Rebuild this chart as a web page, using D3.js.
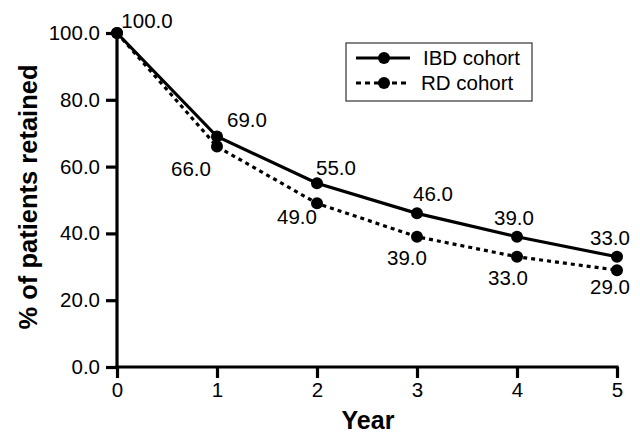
<!DOCTYPE html>
<html><head><meta charset="utf-8">
<script src="https://cdn.jsdelivr.net/npm/d3@7"></script>
<style>body{margin:0;background:#fff}svg{display:block}text{font-family:Arial,"Liberation Sans",Helvetica,sans-serif}</style>
</head><body>
<svg id="c" width="640" height="434"></svg>
<script>
const years = [0, 1, 2, 3, 4, 5];
const ibd = [100, 69, 55, 46, 39, 33];
const rd = [100, 66, 49, 39, 33, 29];
const yTicks = [0, 20, 40, 60, 80, 100];
const seriesNames = ["IBD cohort", "RD cohort"];
// label nudges (pixels), layout only
const ibdNudge = [[30, -5], [30, -10], [19, -8], [16, -12], [-3, -12], [-7, -12]];
const rdNudge = [[0, 0], [-26, 29], [-20, 21], [-10, 28], [-9, 28], [-7, 24]];

const svg = d3.select("#c");
const x = d3.scaleLinear().domain([0, 5]).range([117, 617]);
const y = d3.scaleLinear().domain([0, 100]).range([367, 33]);

const g = svg.append("g");
const xAxis = g.append("g").attr("transform", `translate(0,${y(0)})`)
  .call(d3.axisBottom(x).tickValues(years).tickFormat(d3.format("d")).tickSize(11).tickPadding(4));
const yAxis = g.append("g").attr("transform", `translate(${x(0)},0)`)
  .call(d3.axisLeft(y).tickValues(yTicks).tickFormat(d3.format(".1f")).tickSize(11).tickPadding(6));
[xAxis, yAxis].forEach(a => {
  a.select(".domain").attr("stroke", "#000").attr("stroke-width", 3.2).attr("stroke-linecap", "square");
  a.selectAll(".tick line").attr("stroke", "#000").attr("stroke-width", 3.2);
  a.selectAll(".tick text").attr("fill", "#000").style("font-size", "20.5px");
});
xAxis.select(".domain").attr("d", `M${x(0)},0H${x(5)}`);
yAxis.select(".domain").attr("d", `M0,${y(0)}V${y(100)}`);

const line = d3.line().x((d, i) => x(years[i])).y(d => y(d));
g.append("path").datum(rd).attr("d", line).attr("fill", "none").attr("stroke", "#000")
  .attr("stroke-width", 3.2).attr("stroke-dasharray", "4,4");
g.append("path").datum(ibd).attr("d", line).attr("fill", "none").attr("stroke", "#000")
  .attr("stroke-width", 3.2);
g.selectAll(".rdp").data(rd).join("circle").attr("cx", (d, i) => x(years[i])).attr("cy", d => y(d)).attr("r", 6).attr("fill", "#000");
g.selectAll(".ibdp").data(ibd).join("circle").attr("cx", (d, i) => x(years[i])).attr("cy", d => y(d)).attr("r", 6).attr("fill", "#000");

const fmt = d3.format(".1f");
g.selectAll(".ibdl").data(ibd).join("text")
  .attr("x", (d, i) => x(years[i]) + ibdNudge[i][0]).attr("y", (d, i) => y(d) + ibdNudge[i][1])
  .attr("text-anchor", "middle").style("font-size", "20.5px").text(d => fmt(d));
g.selectAll(".rdl").data(rd.slice(1)).join("text")
  .attr("x", (d, i) => x(years[i + 1]) + rdNudge[i + 1][0]).attr("y", (d, i) => y(d) + rdNudge[i + 1][1])
  .attr("text-anchor", "middle").style("font-size", "20.5px").text(d => fmt(d));

svg.append("text").attr("x", x(2.5) + 1).attr("y", 429).attr("text-anchor", "middle")
  .style("font-size", "25px").style("font-weight", "bold").text("Year");
svg.append("text").attr("transform", `translate(37,${y(50) - 3}) rotate(-90)`).attr("text-anchor", "middle")
  .style("font-size", "25.5px").style("font-weight", "bold").text("% of patients retained");

const lg = svg.append("g");
lg.append("rect").attr("x", 346).attr("y", 43).attr("width", 186).attr("height", 58)
  .attr("fill", "#fff").attr("stroke", "#333").attr("stroke-width", 1.2);
seriesNames.forEach((n, i) => {
  const ly = 58 + i * 25;
  lg.append("line").attr("x1", 356).attr("x2", 410).attr("y1", ly).attr("y2", ly)
    .attr("stroke", "#000").attr("stroke-width", 3.2).attr("stroke-dasharray", i ? "5,4" : null);
  lg.append("circle").attr("cx", 384).attr("cy", ly).attr("r", 6).attr("fill", "#000");
  lg.append("text").attr("x", 423 - (i ? 2 : 0)).attr("y", ly + 7).style("font-size", "20.5px").text(n);
});
</script>
</body></html>
